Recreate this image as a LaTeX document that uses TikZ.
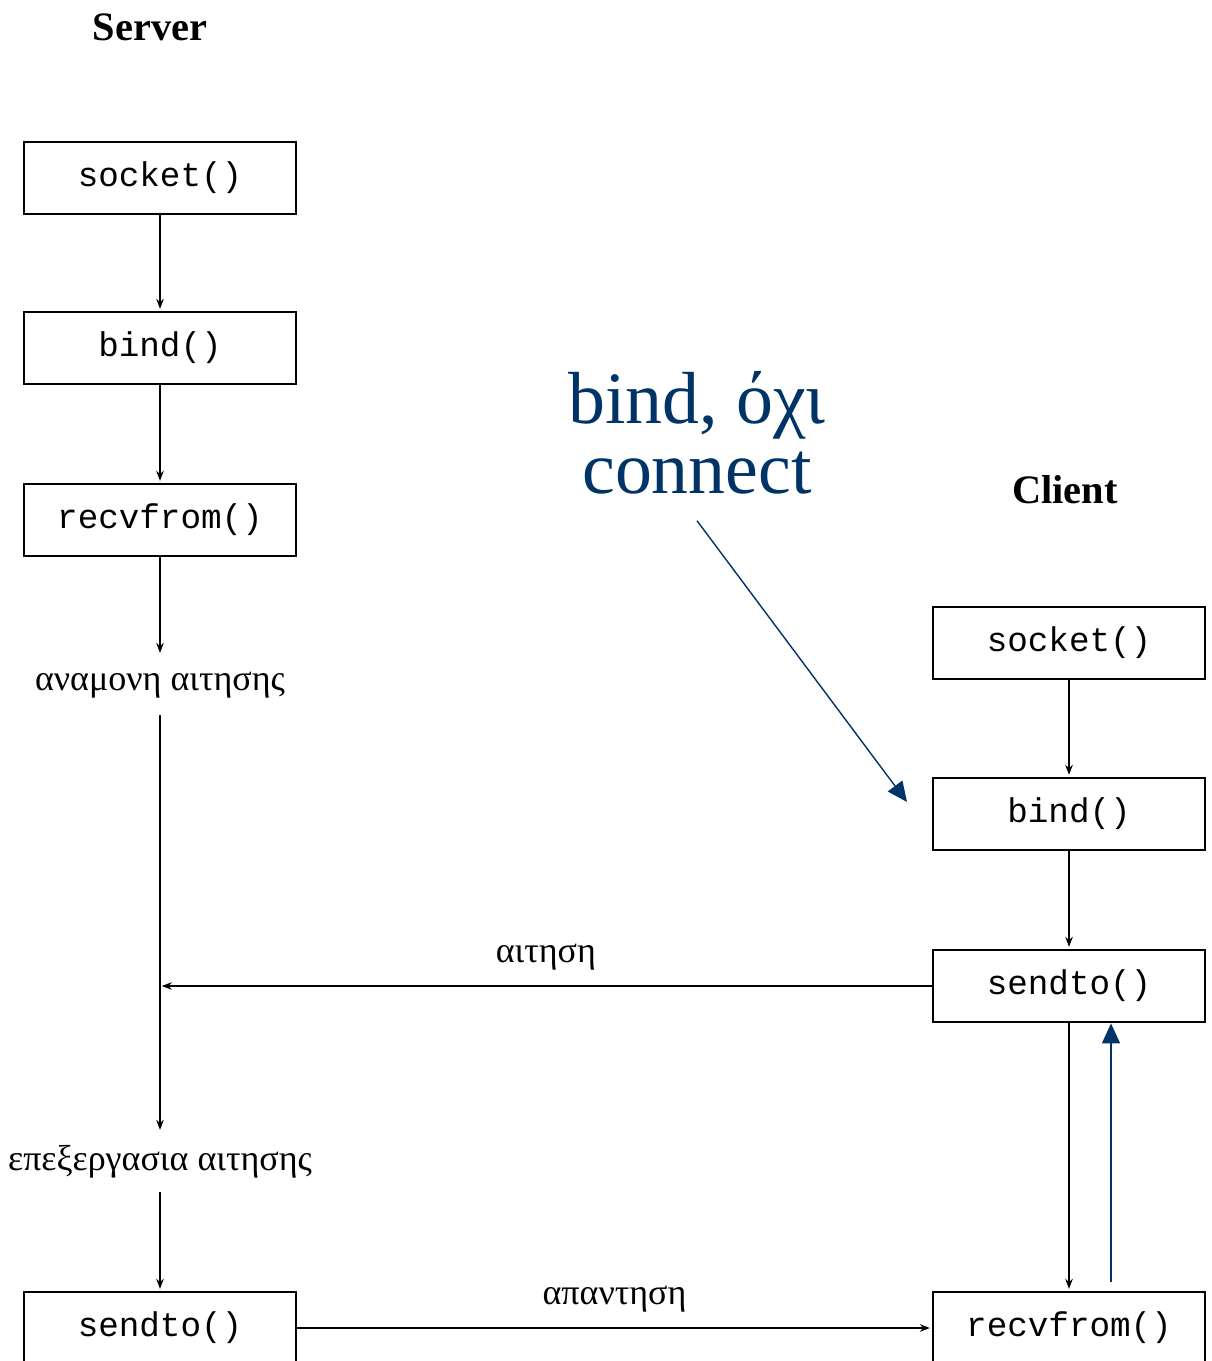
\documentclass[tikz,border=0pt]{standalone}
\usepackage{fontspec}
\setmainfont{Liberation Serif}
\setmonofont{Liberation Mono}
\usetikzlibrary{arrows.meta,positioning}
\definecolor{mple}{RGB}{0,51,102}
\tikzset{
  kouti/.style={draw,line width=1.6pt,minimum width=5.44cm,minimum height=1.44cm,
    inner sep=0pt,font=\fontsize{19.5}{19.5}\selectfont\ttfamily},
  katastasi/.style={inner sep=0pt,minimum height=1.2cm,font=\fontsize{20.5}{20.5}\selectfont},
  titlos/.style={font=\fontsize{23}{23}\selectfont\bfseries},
  velos/.style={line width=1.1pt,-{Stealth[length=2mm,width=1.5mm]},shorten >=1pt},
  mplevelos/.style={mple,line width=0.8pt,-{Triangle[length=4mm,width=3.6mm]}},
}

\begin{document}
\begin{tikzpicture}[x=0.02cm,y=-0.02cm]
  \useasboundingbox (0,0) rectangle (1212,1361);
  % server
  \node[titlos] (server) at (150,27) {Server};
  \node[kouti] (srvsocket) at (160,178) {socket()};
  \node[kouti] (srvbind) at (160,348) {bind()};
  \node[kouti] (srvrecv) at (160,520) {recvfrom()};
  \node[katastasi] (wait) at (160,685) {αναμονη αιτησης};
  \node[katastasi] (proc) at (160,1162) {επεξεργασια αιτησης};
  \node[kouti] (srvsend) at (160,1328) {sendto()};
  % client
  \node[titlos] (client) at (1065,490) {Client};
  \node[kouti] (clsocket) at (1069,643) {socket()};
  \node[kouti] (clbind) at (1069,814) {bind()};
  \node[kouti] (clsend) at (1069,986) {sendto()};
  \node[kouti] (clrecv) at (1069,1328) {recvfrom()};
  % note
  \node[mple,align=center,font=\fontsize{42}{40}\selectfont] (note) at (697,433)
    {bind, όχι\\connect};
  \coordinate (tipbind) at (907,802);

  \draw[velos] (srvsocket) -- (srvbind);
  \draw[velos] (srvbind) -- (srvrecv);
  \draw[velos] (srvrecv) -- (wait);
  \draw[velos] (wait) -- (proc);
  \draw[velos] (proc) -- (srvsend);
  \draw[velos] (clsocket) -- (clbind);
  \draw[velos] (clbind) -- (clsend);
  \draw[velos] (clsend) -- (clrecv);
  \draw[velos] (clsend.west) -- (srvrecv.south |- clsend.west)
    node[midway,above=0.3cm,katastasi,minimum height=0pt] (req) {αιτηση};
  \draw[velos] (srvsend.east) -- (clrecv.west)
    node[midway,above=0.3cm,katastasi,minimum height=0pt] (resp) {απαντηση};

  \draw[mplevelos] ([yshift=1.8mm]1111,0 |- clrecv.north) -- (1111,0 |- clsend.south);
  \draw[mplevelos] ([yshift=-0.4cm]note.south) -- (tipbind);
\end{tikzpicture}
\end{document}
